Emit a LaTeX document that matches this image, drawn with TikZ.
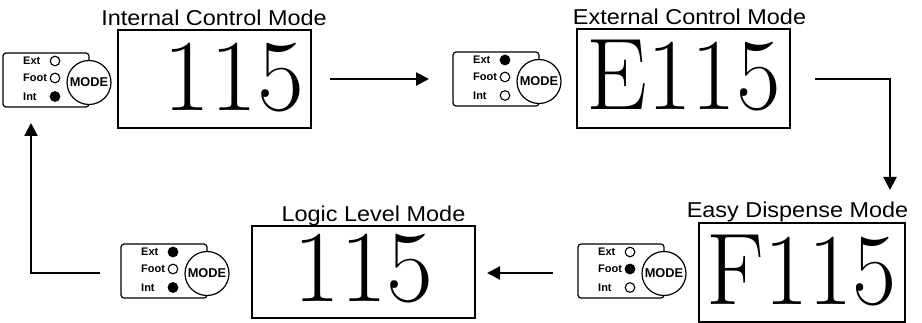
\documentclass[tikz,border=0pt]{standalone}
\usepackage{fontspec}
\newfontfamily\arial{Liberation Sans}
\usetikzlibrary{arrows.meta}
\newcommand{\widetitle}[1]{\scalebox{1.09}[1]{#1}}
\tikzset{
  dispbox/.style={draw, line width=1.3pt, inner sep=0pt},
  dispnum/.style={inner sep=0pt, anchor=base, font=\fontsize{102}{102}\selectfont},
  title/.style={inner sep=0pt, anchor=base, font=\arial\fontsize{21.5}{21.5}\selectfont},
  lbl/.style={inner sep=0pt, anchor=west, font=\arial\bfseries\fontsize{11}{11}\selectfont},
  modebtn/.style={draw, circle, fill=white, line width=1.2pt, minimum size=44pt, inner sep=0pt,
    font=\arial\bfseries\fontsize{12.8}{12.8}\selectfont},
  led/.style={draw, line width=1.1pt, fill=#1},
  conn/.style={line width=2.2pt, -{Triangle[length=13pt,width=13pt]}},
  pics/ctrl/.style n args={3}{code={
    \draw[line width=1.2pt, rounded corners=3pt] (0,0) rectangle (86,54);
    \node[lbl] (-ext) at (20,8) {Ext};
    \node[lbl] (-foot) at (20,25) {Foot};
    \node[lbl] (-int) at (20,43.5) {Int};
    \draw[led=#1] (52,8) circle (4.8);
    \draw[led=#2] (52,25) circle (4.8);
    \draw[led=#3] (52,43.5) circle (4.8);
    \node[modebtn] (-mode) at (86,29.5) {MODE};
  }}
}
\begin{document}
\begin{tikzpicture}[x=1pt,y=-1pt]
\useasboundingbox (0,0) rectangle (922,323);

% panel 1: Internal Control Mode
\pic (p1) at (3,53) {ctrl={white}{white}{black}};
\node[dispbox, minimum width=193pt, minimum height=98pt] (d1) at (214.5,79) {};
\node[dispnum] (n1) at (234,111) {115};
\node[title] (t1) at (214,26) {\widetitle{Internal Control Mode}};

% panel 2: External Control Mode
\pic (p2) at (453,52) {ctrl={black}{white}{white}};
\node[dispbox, minimum width=213pt, minimum height=99pt] (d2) at (683.5,78.5) {};
\node[dispnum] (n2) at (683.5,110) {\scalebox{0.95}[1]{E115}};
\node[title] (t2) at (689.5,25) {\widetitle{External Control Mode}};

% panel 3: Easy Dispense Mode
\pic (p3) at (578,244) {ctrl={white}{black}{white}};
\node[dispbox, minimum width=206pt, minimum height=99pt] (d3) at (802,272.5) {};
\node[dispnum] (n3) at (801.5,305) {\scalebox{0.94}[1]{F115}};
\node[title] (t3) at (797.5,218) {\widetitle{Easy Dispense Mode}};

% panel 4: Logic Level Mode
\pic (p4) at (121,244) {ctrl={black}{white}{black}};
\node[dispbox, minimum width=223pt, minimum height=92pt] (d4) at (363.5,272) {};
\node[dispnum] (n4) at (363.5,302) {115};
\node[title] (t4) at (373.5,221.5) {\widetitle{Logic Level Mode}};

% connectors
\coordinate (a1s) at (330,79);
\coordinate (a1e) at (429,79);
\coordinate (a2s) at (815,79);
\coordinate (a2e) at (890,190);
\coordinate (a3s) at (553,273);
\coordinate (a3e) at (487,273);
\coordinate (a4s) at (100,273);
\coordinate (a4e) at (31,123);
\draw[conn] (a1s) -- (a1e);
\draw[conn] (a2s) -| (a2e);
\draw[conn] (a3s) -- (a3e);
\draw[conn] (a4s) -| (a4e);
\end{tikzpicture}
\end{document}
